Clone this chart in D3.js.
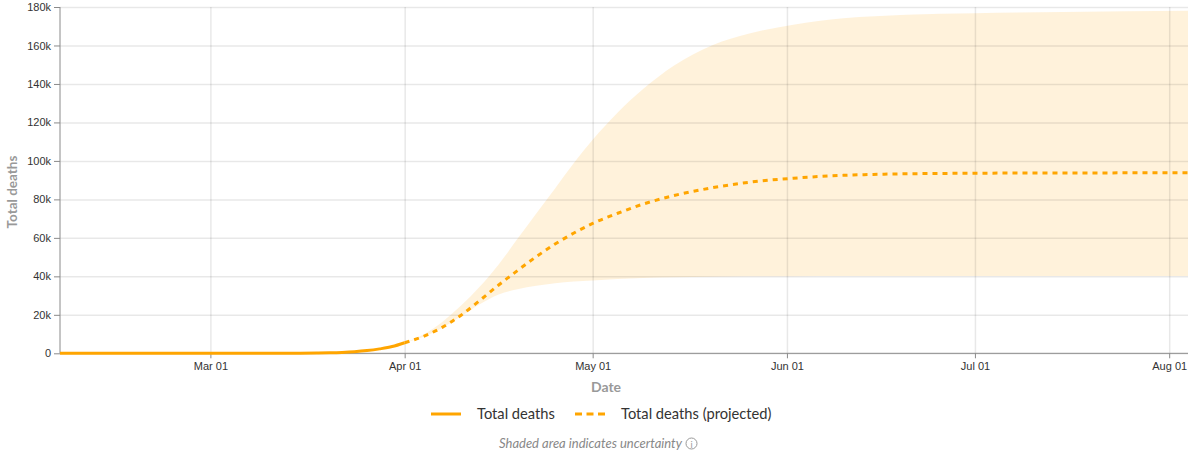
<!DOCTYPE html>
<html>
<head>
<meta charset="utf-8">
<script src="https://cdn.jsdelivr.net/npm/d3@7"></script>
<style>
  body { margin: 0; background: #fff; }
  svg { display: block; font-family: Lato, "Open Sans", sans-serif; }
  .tick text { font-family: "Liberation Sans", Arial, sans-serif; font-size: 11px; fill: #333; }
  .axis path, .axis line { stroke: #8a8a8a; }
  .grid line { stroke: #000; stroke-opacity: 0.09; stroke-width: 1.5; }
  .grid path { display: none; }
</style>
</head>
<body>
<div id="chart"></div>
<script>
// observed totals
var actualDates  = ['2020-02-06','2020-02-29','2020-03-01','2020-03-05','2020-03-10','2020-03-15','2020-03-18','2020-03-20','2020-03-22','2020-03-24','2020-03-26','2020-03-28','2020-03-30','2020-04-01'];
var actualValues = [0, 1, 2, 12, 30, 70, 150, 250, 450, 800, 1400, 2300, 3500, 5500];

// projected mean, and the uncertainty band on the same dates
var projDates  = ['2020-04-01','2020-04-04','2020-04-07','2020-04-10','2020-04-13','2020-04-16','2020-04-19','2020-04-22','2020-04-25','2020-04-28','2020-05-01','2020-05-05','2020-05-09','2020-05-14','2020-05-20','2020-05-26','2020-06-02','2020-06-10','2020-06-20','2020-07-01','2020-07-15','2020-08-04'];
var projValues = [5500, 8800, 13500, 19800, 27500, 35500, 43000, 50200, 56800, 62500, 67500, 72800, 77500, 82000, 86000, 88900, 91000, 92500, 93300, 93600, 93750, 93800];
var bandLower  = [5500, 8600, 13200, 19200, 25500, 30500, 33300, 35100, 36400, 37300, 37900, 38600, 39100, 39500, 39800, 40000, 40100, 40200, 40200, 40200, 40200, 40200];
var bandUpper  = [5500, 9800, 16300, 24800, 34700, 46200, 59500, 72700, 85700, 98900, 111000, 125200, 137200, 149600, 160000, 166200, 170800, 174100, 176000, 176800, 177400, 178000];

var yTicks = [0, 20000, 40000, 60000, 80000, 100000, 120000, 140000, 160000, 180000];
var xDomain = ['2020-02-06', '2020-08-04'];

var parse = d3.utcParse('%Y-%m-%d');
var orange = '#ffa500';

var W = 1200, H = 459;
var m = {left: 60, top: 7, right: 12, bottom: 105.7};
var iw = W - m.left - m.right, ih = H - m.top - m.bottom;

var svg = d3.select('#chart').append('svg').attr('width', W).attr('height', H);
var g = svg.append('g').attr('transform', 'translate(' + m.left + ',' + m.top + ')');

var x = d3.scaleUtc().domain(xDomain.map(parse)).range([0, iw]);
var y = d3.scaleLinear().domain([0, 180000]).range([ih, 0]);

var actual = actualDates.map(function(d, i){ return {date: parse(d), v: actualValues[i]}; });
var proj = projDates.map(function(d, i){ return {date: parse(d), v: projValues[i], lo: bandLower[i], hi: bandUpper[i]}; });

// shaded area first so the grid shows through
g.append('path').datum(proj)
  .attr('fill', orange).attr('fill-opacity', 0.14)
  .attr('d', d3.area().curve(d3.curveMonotoneX)
    .x(function(d){ return x(d.date); })
    .y0(function(d){ return y(d.lo); })
    .y1(function(d){ return y(d.hi); }));

// grid
g.append('g').attr('class', 'grid')
  .call(d3.axisLeft(y).tickValues(yTicks).tickSize(-iw).tickFormat(''));
g.append('g').attr('class', 'grid')
  .call(d3.axisBottom(x).ticks(d3.utcMonth.every(1)).tickSize(ih).tickFormat(''));

// axes
g.append('g').attr('class', 'axis')
  .call(d3.axisLeft(y).tickValues(yTicks).tickSize(6).tickPadding(3).tickFormat(d3.format('~s')))
  .call(function(a){ a.select('.domain').attr('d', 'M0,0V' + ih); });
g.append('g').attr('class', 'axis').attr('transform', 'translate(0,' + ih + ')')
  .call(d3.axisBottom(x).ticks(d3.utcMonth.every(1)).tickSize(5).tickPadding(4).tickFormat(d3.utcFormat('%b %d')))
  .call(function(a){ a.select('.domain').attr('d', 'M0,0H' + iw); });

var line = d3.line().curve(d3.curveMonotoneX)
  .x(function(d){ return x(d.date); })
  .y(function(d){ return y(d.v); });

g.append('path').datum(proj)
  .attr('fill', 'none').attr('stroke', orange).attr('stroke-width', 3)
  .attr('stroke-dasharray', '5,5').attr('d', line);
g.append('path').datum(actual)
  .attr('fill', 'none').attr('stroke', orange).attr('stroke-width', 3)
  .attr('d', line);

// axis titles
svg.append('text')
  .attr('transform', 'translate(12,192) rotate(-90)')
  .attr('text-anchor', 'middle').attr('dy', '0.35em')
  .style('font-size', '13.5px').style('font-weight', 'bold').style('fill', '#999')
  .text('Total deaths');
svg.append('text')
  .attr('x', 606).attr('y', 392).attr('text-anchor', 'middle')
  .style('font-size', '14px').style('font-weight', 'bold').style('fill', '#999')
  .text('Date');

// legend
var leg = svg.append('g').attr('transform', 'translate(0,414)');
leg.append('line').attr('x1', 431).attr('x2', 461)
  .attr('stroke', orange).attr('stroke-width', 3);
leg.append('text').attr('x', 477).attr('y', 5)
  .style('font-size', '14.7px').style('fill', '#333').text('Total deaths');
leg.append('line').attr('x1', 575).attr('x2', 605)
  .attr('stroke', orange).attr('stroke-width', 3).attr('stroke-dasharray', '7,4.5');
leg.append('text').attr('x', 621).attr('y', 5)
  .style('font-size', '14.7px').style('fill', '#333').text('Total deaths (projected)');

// footnote
var note = svg.append('g');
note.append('text').attr('x', 499).attr('y', 448)
  .style('font-size', '13px').style('font-style', 'italic').style('fill', '#888')
  .text('Shaded area indicates uncertainty');
note.append('circle').attr('cx', 691.5).attr('cy', 443.5).attr('r', 5.5)
  .attr('fill', 'none').attr('stroke', '#999').attr('stroke-width', 1);
note.append('text').attr('x', 691.5).attr('y', 447.5).attr('text-anchor', 'middle')
  .style('font-size', '9px').style('fill', '#999').text('i');
</script>
</body>
</html>
